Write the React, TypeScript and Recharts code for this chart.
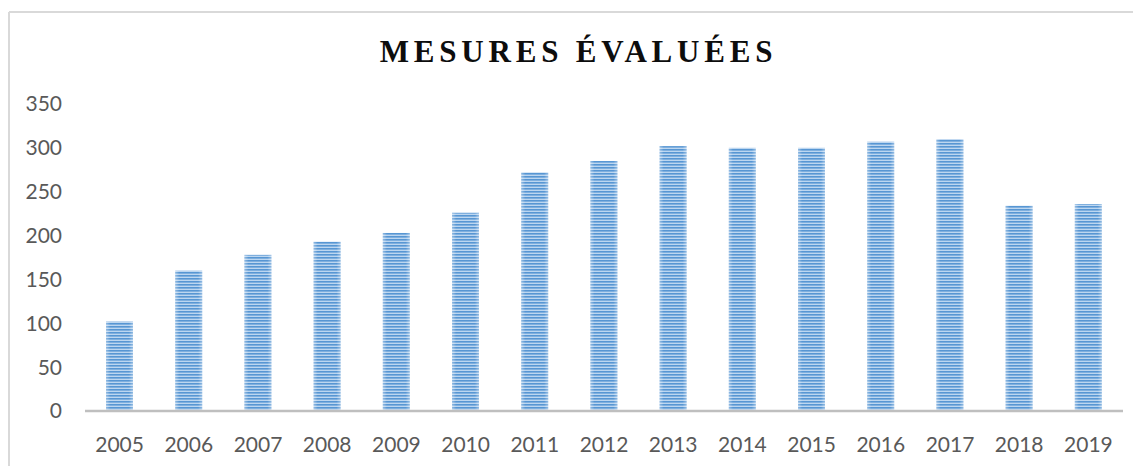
import React from 'react'
import { BarChart, Bar, XAxis, YAxis } from 'recharts'

const years = ['2005', '2006', '2007', '2008', '2009', '2010', '2011', '2012', '2013', '2014', '2015', '2016', '2017', '2018', '2019']
const mesures = [102, 160, 178, 193, 203, 226, 272, 285, 302, 300, 300, 307, 310, 234, 236]
const yTicks = [0, 50, 100, 150, 200, 250, 300, 350]

const data = years.map((year, i) => ({ year, value: mesures[i] }))

const W = 1133
const H = 458

// striped bar with slightly lighter edges, like the Excel texture fill
function StripedBar(props: any) {
  const { x, y, width, height } = props
  if (!height || height <= 0) return null
  return (
    <g>
      <rect x={x} y={y} width={width} height={height} fill="url(#hstripes)" />
      <rect x={x} y={y} width={width} height={height} fill="url(#edgeGlow)" />
    </g>
  )
}

export default function App() {
  return (
    <div style={{ position: 'relative', width: W, height: H, background: '#fff' }}>
      <svg width={W} height={H} style={{ position: 'absolute', left: 0, top: 0 }}>
        <defs>
          <pattern id="hstripes" width="6" height="3" patternUnits="userSpaceOnUse">
            <rect width="6" height="3" fill="#bcd6f0" />
            <rect width="6" height="1.6" fill="#5796d3" />
          </pattern>
          <linearGradient id="edgeGlow" x1="0" x2="1" y1="0" y2="0">
            <stop offset="0" stopColor="#ffffff" stopOpacity="0.35" />
            <stop offset="0.15" stopColor="#ffffff" stopOpacity="0" />
            <stop offset="0.85" stopColor="#ffffff" stopOpacity="0" />
            <stop offset="1" stopColor="#ffffff" stopOpacity="0.35" />
          </linearGradient>
        </defs>
        <line x1={1} y1={4} x2={W} y2={4} stroke="#d9d9d9" strokeWidth={2} />
        <line x1={1} y1={4} x2={1} y2={H} stroke="#d9d9d9" strokeWidth={2} />
        <text
          x={W / 2 + 4}
          y={54}
          textAnchor="middle"
          fontFamily="'Liberation Serif', serif"
          fontWeight="bold"
          fontSize={31}
          letterSpacing={4.8}
          fill="#0d0d0d"
        >
          MESURES ÉVALUÉES
        </text>
      </svg>
      <div style={{ position: 'absolute', left: 0, top: 0 }}>
        <BarChart
          width={W}
          height={H}
          data={data}
          margin={{ top: 96, right: 18, bottom: 15, left: 0 }}
          barSize={27}
        >
          <XAxis
            dataKey="year"
            height={40}
            tickLine={false}
            tickSize={0}
            tickMargin={26}
            axisLine={{ stroke: '#bfbfbf', strokeWidth: 2.5 }}
            tick={{ fill: '#595959', fontSize: 21, fontFamily: 'Lato, sans-serif' }}
            interval={0}
          />
          <YAxis
            width={77}
            domain={[0, 350]}
            ticks={yTicks}
            axisLine={false}
            tickLine={false}
            tickSize={0}
            tickMargin={23}
            tick={{ fill: '#595959', fontSize: 21, fontFamily: 'Lato, sans-serif' }}
          />
          <Bar dataKey="value" shape={StripedBar} isAnimationActive={false} />
        </BarChart>
      </div>
    </div>
  )
}
